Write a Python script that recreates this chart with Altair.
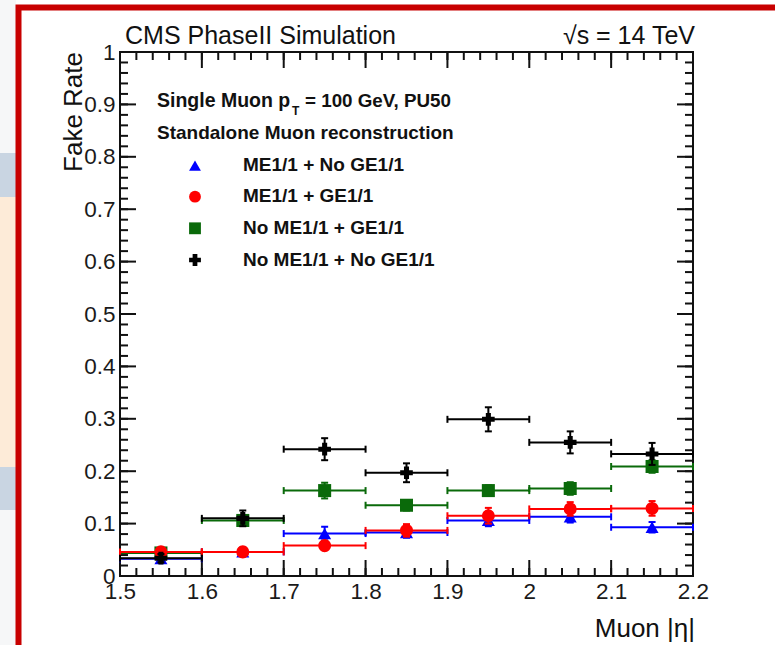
import altair as alt
import pandas as pd
import numpy as np

# ---------------- data ----------------
eta_lo = [1.5, 1.6, 1.7, 1.8, 1.9, 2.0, 2.1]
eta_hi = [1.6, 1.7, 1.8, 1.9, 2.0, 2.1, 2.2]
eta_center = [1.55, 1.65, 1.75, 1.85, 1.95, 2.05, 2.15]

series_names = ["ME1/1 + No GE1/1", "ME1/1 + GE1/1", "No ME1/1 + GE1/1", "No ME1/1 + No GE1/1"]
series_colors = ["#0000ff", "#ff0000", "#0a6a0a", "#000000"]
series_shapes = ["triangle-up", "circle", "square", "cross"]

blue_val = [0.033, 0.046, 0.081, 0.083, 0.106, 0.113, 0.093]
blue_err = [0.008, 0.008, 0.013, 0.010, 0.011, 0.011, 0.010]
red_val = [0.046, 0.046, 0.058, 0.087, 0.115, 0.128, 0.129]
red_err = [0.007, 0.008, 0.008, 0.012, 0.015, 0.013, 0.014]
green_val = [0.044, 0.106, 0.163, 0.135, 0.163, 0.167, 0.209]
green_err = [0.007, 0.009, 0.015, 0.010, 0.010, 0.012, 0.012]
black_val = [0.034, 0.110, 0.242, 0.197, 0.299, 0.255, 0.233]
black_err = [0.008, 0.015, 0.021, 0.018, 0.023, 0.021, 0.021]

series_vals = [blue_val, red_val, green_val, black_val]
series_errs = [blue_err, red_err, green_err, black_err]

x_tick_labels = [1.5, 1.6, 1.7, 1.8, 1.9, 2.0, 2.1, 2.2]
y_tick_labels = [0, 0.1, 0.2, 0.3, 0.4, 0.5, 0.6, 0.7, 0.8, 0.9, 1.0]

# ---------------- layout ----------------
W, H = 573, 524
FONT = "Liberation Sans"
XS = alt.Scale(domain=[1.5, 2.2], nice=False, zero=False)
YS = alt.Scale(domain=[0, 1], nice=False, zero=False)
XAX = alt.Axis(values=x_tick_labels, format="~g", ticks=False, domain=False, grid=False,
               labelFontSize=22.5, labelFont=FONT, labelColor="#1a1a1a", labelPadding=4,
               title=None, labelFlush=False, labelOverlap=False)
YAX = alt.Axis(values=y_tick_labels, format="~g", ticks=False, domain=False, grid=False,
               labelFontSize=22.5, labelFont=FONT, labelColor="#1a1a1a", labelPadding=5,
               title=None, labelFlush=False, labelOverlap=False)

one = pd.DataFrame({"a": [0]})

layers = []

# decorative background (slide strip on left and red frame)
layers.append(alt.Chart(one).mark_rect(color="#f6f7f8").encode(
    x=alt.value(-120), x2=alt.value(-104), y=alt.value(-52), y2=alt.value(593)))
layers.append(alt.Chart(one).mark_rect(color="#c9d5e2").encode(
    x=alt.value(-120), x2=alt.value(-104), y=alt.value(101), y2=alt.value(145)))
layers.append(alt.Chart(one).mark_rect(color="#fdebd8").encode(
    x=alt.value(-120), x2=alt.value(-104), y=alt.value(145), y2=alt.value(415)))
layers.append(alt.Chart(one).mark_rect(color="#c9d5e2").encode(
    x=alt.value(-120), x2=alt.value(-104), y=alt.value(415), y2=alt.value(458)))
layers.append(alt.Chart(one).mark_rect(filled=False, stroke="#c80000", strokeWidth=6,
                                       strokeOpacity=1).encode(
    x=alt.value(-101.5), x2=alt.value(720), y=alt.value(-44.5), y2=alt.value(640)))

# tick marks (ROOT style, inside the frame on all four sides)
x_major = pd.DataFrame({"v": x_tick_labels})
x_minor = pd.DataFrame({"v": np.round(np.arange(1.5, 2.2001, 0.02), 3)})
y_major = pd.DataFrame({"v": y_tick_labels})
y_minor = pd.DataFrame({"v": np.round(np.arange(0, 1.0001, 0.02), 3)})

for df, L in [(x_minor, 8), (x_major, 16)]:
    layers.append(alt.Chart(df).mark_rule(color="#111", strokeWidth=2).encode(
        x=alt.X("v:Q", scale=XS, axis=XAX), y=alt.value(H), y2=alt.value(H - L)))
    layers.append(alt.Chart(df).mark_rule(color="#111", strokeWidth=2).encode(
        x=alt.X("v:Q", scale=XS, axis=XAX), y=alt.value(0), y2=alt.value(L)))
for df, L in [(y_minor, 8), (y_major, 16)]:
    layers.append(alt.Chart(df).mark_rule(color="#111", strokeWidth=2).encode(
        y=alt.Y("v:Q", scale=YS, axis=YAX), x=alt.value(0), x2=alt.value(L)))
    layers.append(alt.Chart(df).mark_rule(color="#111", strokeWidth=2).encode(
        y=alt.Y("v:Q", scale=YS, axis=YAX), x=alt.value(W - L), x2=alt.value(W)))

# data series, drawn in ROOT order
draw_order = [0, 2, 1, 3]
for i in draw_order:
    col = series_colors[i]
    df = pd.DataFrame({"lo": eta_lo, "hi": eta_hi, "c": eta_center,
                       "v": series_vals[i], "e": series_errs[i]})
    df["top"] = df["v"] + df["e"]
    df["bot"] = df["v"] - df["e"]
    base = alt.Chart(df)
    # horizontal bin bars
    layers.append(base.mark_rule(color=col, strokeWidth=2).encode(
        x=alt.X("lo:Q", scale=XS, axis=XAX), x2="hi:Q", y=alt.Y("v:Q", scale=YS, axis=YAX)))
    for edge in ["lo", "hi"]:
        layers.append(base.mark_rule(color=col, strokeWidth=2, yOffset=-3.5, y2Offset=3.5).encode(
            x=alt.X(f"{edge}:Q", scale=XS, axis=XAX), y=alt.Y("v:Q", scale=YS, axis=YAX), y2="v:Q"))
    # vertical error bars
    layers.append(base.mark_rule(color=col, strokeWidth=2).encode(
        x=alt.X("c:Q", scale=XS, axis=XAX), y=alt.Y("bot:Q", scale=YS, axis=YAX), y2="top:Q"))
    for end in ["bot", "top"]:
        layers.append(base.mark_rule(color=col, strokeWidth=2, xOffset=-3.5, x2Offset=3.5).encode(
            x=alt.X("c:Q", scale=XS, axis=XAX), x2="c:Q", y=alt.Y(f"{end}:Q", scale=YS, axis=YAX)))
    # markers
    layers.append(base.mark_point(shape=series_shapes[i], filled=True, color=col, opacity=1,
                                  size=170 if series_shapes[i] != "cross" else 160).encode(
        x=alt.X("c:Q", scale=XS, axis=XAX), y=alt.Y("v:Q", scale=YS, axis=YAX)))

# ---------------- texts ----------------
def txt(s, x, y, size, weight="normal", align="left", angle=0, baseline="alphabetic"):
    return alt.Chart(one).mark_text(text=s, font=FONT, fontSize=size, fontWeight=weight,
                                    align=align, baseline=baseline, angle=angle,
                                    color="#111").encode(x=alt.value(x), y=alt.value(y))

layers.append(txt("CMS PhaseII Simulation", 5, -8, 25))
layers.append(txt("√s = 14 TeV", 575, -8, 25, align="right"))
layers.append(txt("Fake Rate", -38, 0, 26, align="right", angle=270))
layers.append(txt("Muon |η|", 575, H + 61, 26, align="right"))

layers.append(txt("Single Muon p", 37, 55, 19.5, weight="bold"))
layers.append(txt("T", 172, 63, 12, weight="bold"))
layers.append(txt("= 100 GeV, PU50", 185, 55, 18.8, weight="bold"))
layers.append(txt("Standalone Muon reconstruction", 37, 86.5, 19, weight="bold"))

leg_text_y = [118.7, 149.7, 182, 214]
leg_sym_y = [113.7, 144.7, 176.3, 208]
for i in range(4):
    layers.append(alt.Chart(one).mark_point(shape=series_shapes[i], filled=True,
                                            color=series_colors[i], opacity=1, size=140).encode(
        x=alt.value(75), y=alt.value(leg_sym_y[i])))
    layers.append(txt(series_names[i], 123, leg_text_y[i], 19, weight="bold"))

chart = alt.layer(*layers).properties(
    width=W, height=H,
    autosize=alt.AutoSizeParams(type="none"),
    padding={"left": 120, "top": 52, "right": 82, "bottom": 69},
    background="white",
).configure_view(stroke="#111", strokeWidth=2)

chart.save("out.html", embed_options={"renderer": "svg", "actions": False})
